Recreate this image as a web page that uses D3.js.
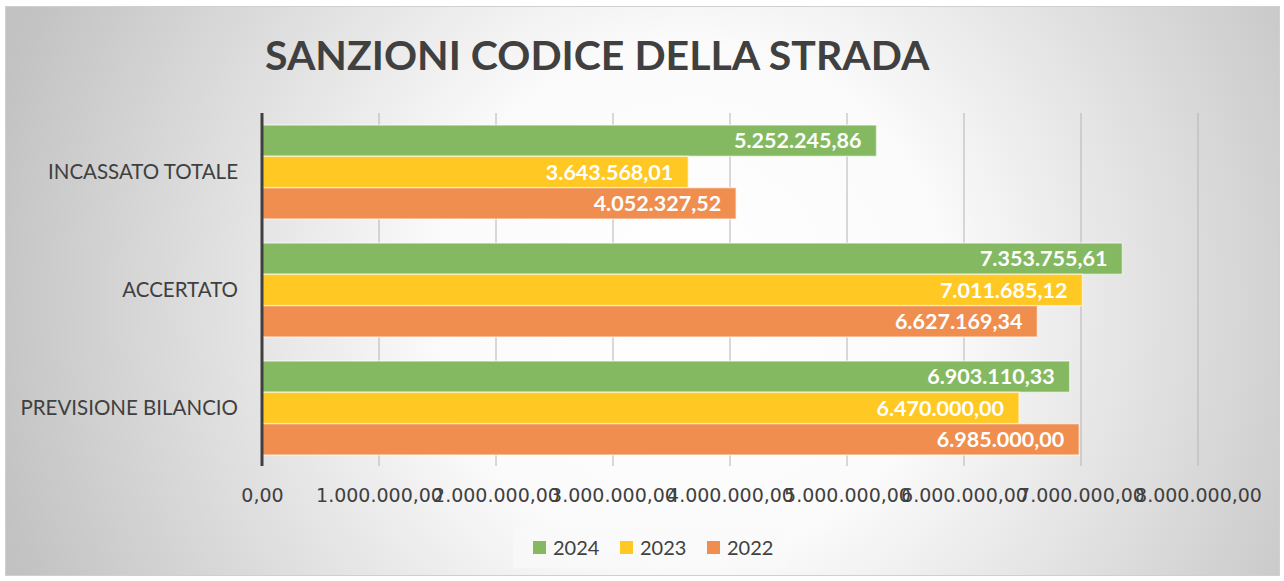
<!DOCTYPE html>
<html>
<head>
<meta charset="utf-8">
<script src="https://cdn.jsdelivr.net/npm/d3@7"></script>
<style>
  body { margin: 0; background: #fff; }
  svg { display: block; }
</style>
</head>
<body>
<svg width="1284" height="581"></svg>
<script>
// dati
var categories = ["INCASSATO TOTALE", "ACCERTATO", "PREVISIONE BILANCIO"];
var years = ["2024", "2023", "2022"];
var values2024 = [5252245.86, 7353755.61, 6903110.33];
var values2023 = [3643568.01, 7011685.12, 6470000.0];
var values2022 = [4052327.52, 6627169.34, 6985000.0];
var ticks = [0, 1000000, 2000000, 3000000, 4000000, 5000000, 6000000, 7000000, 8000000];
var colors = ["#84b962", "#ffc823", "#ef8e4e"];

var series = [values2024, values2023, values2022];

var svg = d3.select("svg"),
  width = +svg.attr("width"),
  height = +svg.attr("height");

var it = d3.formatLocale({ decimal: ",", thousands: ".", grouping: [3], currency: ["", "€"] });
var fmt = it.format(",.2f");

// sfondo sfumato
var defs = svg.append("defs");
var grad = defs
  .append("radialGradient")
  .attr("id", "bg")
  .attr("gradientUnits", "userSpaceOnUse")
  .attr("cx", 690)
  .attr("cy", 300)
  .attr("r", 720);
grad.append("stop").attr("offset", "0%").attr("stop-color", "#ffffff");
grad.append("stop").attr("offset", "35%").attr("stop-color", "#fbfbfb");
grad.append("stop").attr("offset", "100%").attr("stop-color", "#c2c2c2");

svg
  .append("rect")
  .attr("x", 5.5)
  .attr("y", 6.5)
  .attr("width", 1274)
  .attr("height", 569)
  .attr("fill", "url(#bg)")
  .attr("stroke", "#d0d0d0")
  .attr("stroke-width", 1);

svg
  .append("text")
  .attr("x", 265)
  .attr("y", 70)
  .attr("font-family", "Lato, 'Open Sans', sans-serif")
  .attr("font-weight", "bold")
  .attr("font-size", 41)
  .attr("fill", "#404040")
  .text("SANZIONI CODICE DELLA STRADA");

var x = d3.scaleLinear().domain([0, 8000000]).range([262, 1198]);

var y = d3.scaleBand().domain(categories).range([113, 467]).paddingInner(0).paddingOuter(0);

var yInner = d3.scaleBand().domain(years).range([12, y.bandwidth() - 12]);

// griglia
svg
  .append("g")
  .selectAll("line")
  .data(ticks.slice(1))
  .enter()
  .append("line")
  .attr("x1", function (d) { return x(d); })
  .attr("x2", function (d) { return x(d); })
  .attr("y1", 113)
  .attr("y2", 466)
  .attr("stroke", "#b4b4b4")
  .attr("stroke-width", 1);

// barre
var groups = svg
  .append("g")
  .selectAll("g")
  .data(categories)
  .enter()
  .append("g")
  .attr("transform", function (d) { return "translate(0," + y(d) + ")"; });

groups
  .selectAll("rect")
  .data(function (d, i) {
    return years.map(function (yr, j) {
      return { year: yr, value: series[j][i], color: colors[j] };
    });
  })
  .enter()
  .append("rect")
  .attr("x", x(0))
  .attr("y", function (d) { return yInner(d.year); })
  .attr("width", function (d) { return x(d.value) - x(0); })
  .attr("height", yInner.bandwidth())
  .attr("fill", function (d) { return d.color; })
  .attr("stroke", "rgba(255,255,255,0.55)")
  .attr("stroke-width", 1.5);

groups
  .selectAll("text")
  .data(function (d, i) {
    return years.map(function (yr, j) {
      return { year: yr, value: series[j][i] };
    });
  })
  .enter()
  .append("text")
  .attr("x", function (d) { return x(d.value) - 15; })
  .attr("y", function (d) { return yInner(d.year) + yInner.bandwidth() / 2; })
  .attr("dy", "0.35em")
  .attr("text-anchor", "end")
  .attr("font-family", "Lato, 'Open Sans', sans-serif")
  .attr("font-weight", "bold")
  .attr("font-size", 21.5)
  .attr("fill", "#ffffff")
  .text(function (d) { return fmt(d.value); });

// asse x
var xAxis = svg
  .append("g")
  .attr("transform", "translate(0,466)")
  .call(d3.axisBottom(x).tickValues(ticks).tickFormat(fmt).tickSize(0).tickPadding(23));
xAxis.select(".domain").remove();
xAxis
  .selectAll("text")
  .attr("font-family", "'DejaVu Sans', sans-serif")
  .attr("font-size", 19)
  .attr("fill", "#404040");

// asse y
svg
  .append("line")
  .attr("x1", 262)
  .attr("x2", 262)
  .attr("y1", 113)
  .attr("y2", 466)
  .attr("stroke", "#404040")
  .attr("stroke-width", 3);

var yAxis = svg
  .append("g")
  .attr("transform", "translate(238,0)")
  .call(d3.axisLeft(y).tickSize(0).tickPadding(0));
yAxis.select(".domain").remove();
yAxis
  .selectAll("text")
  .attr("font-family", "Lato, 'Open Sans', sans-serif")
  .attr("font-size", 20.5)
  .attr("fill", "#404040");

// legenda
var legend = svg.append("g").attr("transform", "translate(513,527)");
legend
  .append("rect")
  .attr("width", 272)
  .attr("height", 41)
  .attr("fill", "#f9f9f9")
  .attr("opacity", 0.7);

var item = legend
  .selectAll("g")
  .data(years)
  .enter()
  .append("g")
  .attr("transform", function (d, i) { return "translate(" + (20 + i * 87) + ",0)"; });
item
  .append("rect")
  .attr("y", 14)
  .attr("width", 13)
  .attr("height", 13)
  .attr("fill", function (d, i) { return colors[i]; });
item
  .append("text")
  .attr("x", 20)
  .attr("y", 21)
  .attr("dy", "0.35em")
  .attr("font-family", "Lato, 'Open Sans', sans-serif")
  .attr("font-size", 20)
  .attr("fill", "#404040")
  .text(function (d) { return d; });
</script>
</body>
</html>
